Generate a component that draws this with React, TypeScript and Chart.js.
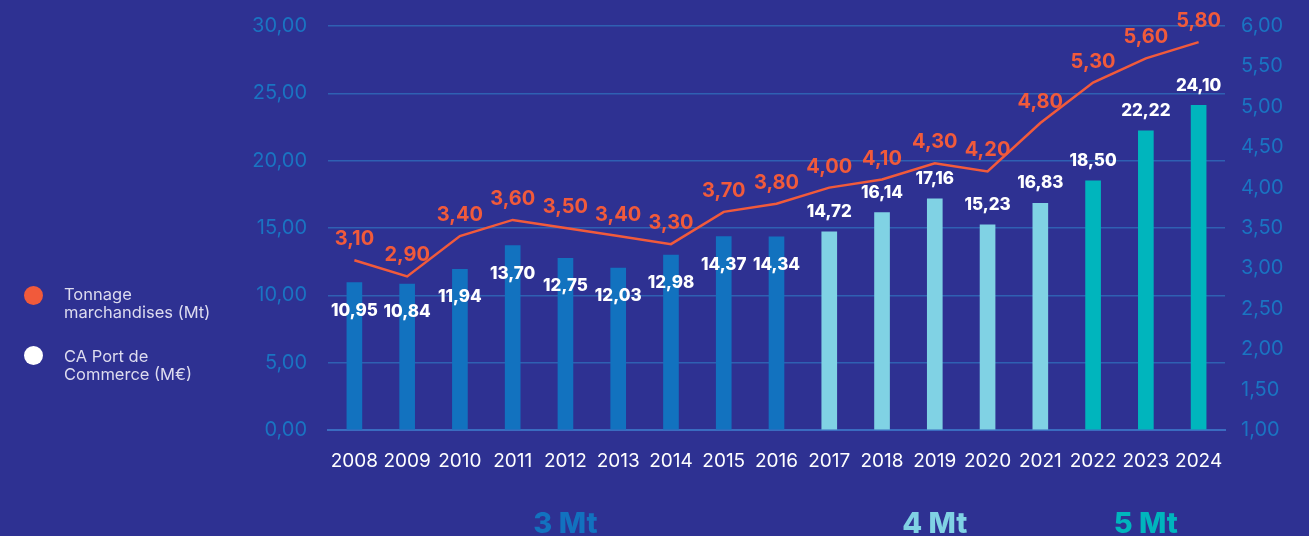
import React, { useEffect, useRef } from "react";
import { Chart, registerables } from "chart.js";

Chart.register(...registerables);

const years = ["2008", "2009", "2010", "2011", "2012", "2013", "2014", "2015", "2016", "2017", "2018", "2019", "2020", "2021", "2022", "2023", "2024"];
const caPortCommerce = [10.95, 10.84, 11.94, 13.7, 12.75, 12.03, 12.98, 14.37, 14.34, 14.72, 16.14, 17.16, 15.23, 16.83, 18.5, 22.22, 24.1];
const tonnage = [3.1, 2.9, 3.4, 3.6, 3.5, 3.4, 3.3, 3.7, 3.8, 4.0, 4.1, 4.3, 4.2, 4.8, 5.3, 5.6, 5.8];
const periodLabels = ["3 Mt", "4 Mt", "5 Mt"];
const periodStart = ["2008", "2017", "2022"];
const periodEnd = ["2016", "2021", "2024"];
const leftTicks = { min: 0, max: 30, step: 5 };
const rightTicks = { min: 1, max: 6, step: 0.5 };

const BG = "#2e3192";
const PERIOD_COLORS = ["#1272bf", "#80d2e4", "#00b5bd"];
const LINE_COLOR = "#f15a3b";
const AXIS_TEXT = "#1a74c2";
const GRID = "#2f60b2";
const FONT = "Inter, 'Open Sans', sans-serif";

const fmt = (v: number) => v.toFixed(2).replace(".", ",");

function periodIndex(i: number): number {
  const y = years[i];
  for (let p = 0; p < periodStart.length; p++) {
    if (y >= periodStart[p] && y <= periodEnd[p]) return p;
  }
  return 0;
}

const labelsPlugin = {
  id: "valueLabels",
  afterDatasetsDraw(chart: any) {
    const ctx = chart.ctx;
    ctx.save();
    ctx.textAlign = "center";
    ctx.textBaseline = "middle";
    // bar labels
    const barMeta = chart.getDatasetMeta(0);
    ctx.font = `800 17px ${FONT}`;
    ctx.fillStyle = "#ffffff";
    barMeta.data.forEach((el: any, i: number) => {
      const inside = periodIndex(i) === 0;
      const y = inside ? el.y + 28 : el.y - 20;
      ctx.fillText(fmt(caPortCommerce[i]), el.x, y);
    });
    // line labels
    const lineMeta = chart.getDatasetMeta(1);
    ctx.font = `700 20px ${FONT}`;
    ctx.fillStyle = LINE_COLOR;
    lineMeta.data.forEach((el: any, i: number) => {
      ctx.fillText(fmt(tonnage[i]), el.x, el.y - 21);
    });
    // period labels
    const xs = chart.scales.x;
    ctx.font = `800 29px ${FONT}`;
    ctx.textBaseline = "alphabetic";
    periodLabels.forEach((lab, p) => {
      const a = xs.getPixelForValue(years.indexOf(periodStart[p]));
      const b = xs.getPixelForValue(years.indexOf(periodEnd[p]));
      ctx.fillStyle = PERIOD_COLORS[p];
      ctx.fillText(lab, (a + b) / 2, chart.height - 3);
    });
    ctx.restore();
  },
};

export default function App() {
  const ref = useRef<HTMLCanvasElement | null>(null);

  useEffect(() => {
    if (!ref.current) return;
    const chart = new Chart(ref.current, {
      type: "bar",
      data: {
        labels: years,
        datasets: [
          {
            type: "bar",
            label: "CA Port de Commerce (M€)",
            data: caPortCommerce,
            backgroundColor: years.map((_, i) => PERIOD_COLORS[periodIndex(i)]),
            barThickness: 15,
            yAxisID: "y",
            order: 2,
          },
          {
            type: "line",
            label: "Tonnage marchandises (Mt)",
            data: tonnage,
            borderColor: LINE_COLOR,
            borderWidth: 2.5,
            pointRadius: 0,
            tension: 0,
            yAxisID: "y1",
            order: 1,
          } as any,
        ],
      },
      options: {
        responsive: false,
        animation: false,
        devicePixelRatio: 1,
        layout: { padding: { top: 26, left: 0, right: 0, bottom: 0 } },
        plugins: { legend: { display: false }, tooltip: { enabled: false } },
        scales: {
          x: {
            grid: { display: false, drawTicks: false },
            border: { display: true, color: "#3a6cc0", width: 2 },
            ticks: { color: "#ffffff", font: { family: FONT, size: 19 }, padding: 20, maxRotation: 0, autoSkip: false },
            afterFit: (s: any) => { s.height = 106; },
          },
          y: {
            position: "left",
            min: leftTicks.min,
            max: leftTicks.max,
            grid: { color: GRID, lineWidth: 1.5, drawTicks: false },
            border: { display: false },
            ticks: {
              stepSize: leftTicks.step,
              color: AXIS_TEXT,
              font: { family: FONT, size: 20, lineHeight: 0.4 },
              padding: 21,
              callback: (v: any) => fmt(Number(v)),
            },
            afterFit: (s: any) => { s.width = 328; },
          },
          y1: {
            position: "right",
            min: rightTicks.min,
            max: rightTicks.max,
            grid: { display: false, drawTicks: false },
            border: { display: false },
            ticks: {
              stepSize: rightTicks.step,
              color: AXIS_TEXT,
              font: { family: FONT, size: 20, lineHeight: 0.4 },
              padding: 16,
              callback: (v: any) => fmt(Number(v)),
            },
            afterFit: (s: any) => { s.width = 84; },
          },
        },
      },
      plugins: [labelsPlugin],
    });
    return () => chart.destroy();
  }, []);

  const legendText: React.CSSProperties = {
    position: "absolute",
    left: 64,
    fontFamily: FONT,
    fontSize: 16.5,
    lineHeight: "18px",
    color: "#dddcef",
  };
  const dot = (color: string, top: number): React.CSSProperties => ({
    position: "absolute",
    left: 24,
    top,
    width: 19,
    height: 19,
    borderRadius: "50%",
    background: color,
  });

  return (
    <div style={{ position: "fixed", left: 0, top: 0, width: 1309, height: 536, background: BG, overflow: "hidden" }}>
      <canvas ref={ref} width={1309} height={536} style={{ position: "absolute", left: 0, top: 0 }} />
      <div style={dot(LINE_COLOR, 286)} />
      <div style={{ ...legendText, top: 285 }}>Tonnage<br />marchandises (Mt)</div>
      <div style={dot("#ffffff", 346)} />
      <div style={{ ...legendText, top: 347 }}>CA Port de<br />Commerce (M€)</div>
    </div>
  );
}
